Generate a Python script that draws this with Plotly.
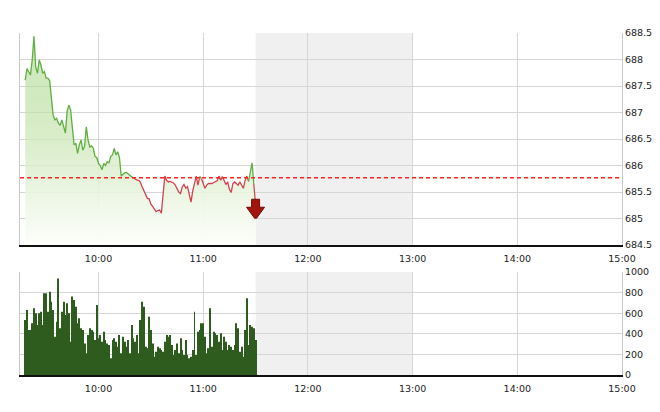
import plotly.graph_objects as go
import pandas as pd

day = "2024-01-02 "
prev_close = 685.77
x_start, x_end = day + "09:15", day + "15:00"
lunch_start, lunch_end = day + "11:30", day + "13:00"

times = list(pd.date_range(day + "09:18", day + "11:30", freq="1min"))

price = [
    687.61, 687.83, 687.77, 687.71, 687.99, 688.44, 687.86, 687.74, 687.99, 687.90,
    687.74, 687.77, 687.65, 687.65, 687.60, 687.33, 686.95, 686.86, 686.89, 686.80,
    686.76, 686.86, 686.73, 686.61, 687.02, 687.14, 687.05, 686.73, 686.39, 686.42,
    686.23, 686.39, 686.48, 686.29, 686.36, 686.73, 686.48, 686.35, 686.37, 686.33,
    686.17, 686.15, 686.04, 686.00, 685.92, 686.04, 686.00, 686.07, 686.05, 686.17,
    686.20, 686.32, 686.20, 686.26, 686.15, 685.80, 685.83, 685.86, 685.87, 685.84,
    685.81, 685.79, 685.76, 685.74, 685.73, 685.72, 685.68, 685.60, 685.53, 685.46,
    685.38, 685.37, 685.27, 685.23, 685.18, 685.13, 685.15, 685.16, 685.10, 685.50,
    685.80, 685.72, 685.69, 685.70, 685.69, 685.67, 685.63, 685.57, 685.50, 685.47,
    685.60, 685.64, 685.57, 685.60, 685.45, 685.31, 685.52, 685.64, 685.80, 685.63,
    685.79, 685.75, 685.66, 685.57, 685.63, 685.66, 685.66, 685.66, 685.68, 685.69,
    685.71, 685.80, 685.72, 685.79, 685.70, 685.64, 685.69, 685.55, 685.49, 685.66,
    685.69, 685.66, 685.63, 685.69, 685.64, 685.57, 685.72, 685.80, 685.70, 685.90,
    686.05, 685.65, 685.25,
]

volume = [
    534, 631, 437, 437, 502, 647, 599, 485, 599, 615, 485, 793, 793, 615, 809, 712,
    631, 372, 518, 938, 453, 615, 712, 582, 696, 599, 324, 761, 728, 663, 502, 550,
    453, 437, 307, 210, 388, 453, 437, 421, 340, 680, 356,
    388, 324, 421, 340, 307, 291, 162, 340, 356, 324, 275, 388, 210, 372, 324, 275,
    340, 210, 485, 356, 324, 388, 210, 534, 712, 663, 275, 259, 566, 437, 307, 178,
    226, 275, 259, 243, 226, 324, 388, 372, 388, 291, 194, 243, 307, 210, 356,
    243, 194, 340, 194, 162, 178, 243, 615, 194, 421, 437, 502, 502, 372, 210, 259,
    647, 275, 421, 405, 388, 324, 405, 243, 372, 324, 243, 291, 275, 243, 291, 502,
    453, 226, 275, 178, 437, 744, 291, 485, 469, 453, 340,
]

price_ticks = [684.5, 685, 685.5, 686, 686.5, 687, 687.5, 688, 688.5]
volume_ticks = [0, 200, 400, 600, 800, 1000]

GREEN = "#5fae40"
RED = "#d4424c"
GRID = "#d6d6d6"
FONT = dict(family="DejaVu Sans", size=9.5, color="#222222")

fig = go.Figure()

# gradient area under the price line
fig.add_trace(go.Scatter(
    x=times, y=price, mode="lines", line=dict(width=0),
    fill="tozeroy",
    fillgradient=dict(
        type="vertical",
        colorscale=[[0, "rgba(253,254,251,1)"], [0.2, "rgba(238,247,230,0.92)"],
                    [1, "rgba(150,205,110,0.45)"]],
        start=price_ticks[0], stop=price_ticks[-1],
    ),
    hoverinfo="skip", showlegend=False, xaxis="x", yaxis="y",
))

# price line, green above previous close, red below
segments = []
for i in range(len(price) - 1):
    col = GREEN if (price[i] + price[i + 1]) / 2 >= prev_close else RED
    if segments and segments[-1][0] == col:
        segments[-1][1].append(i + 1)
    else:
        segments.append((col, [i, i + 1]))
for col, idx in segments:
    fig.add_trace(go.Scatter(
        x=[times[k] for k in idx], y=[price[k] for k in idx], mode="lines",
        line=dict(color=col, width=1.3), showlegend=False, xaxis="x", yaxis="y",
    ))

# volume bars
fig.add_trace(go.Bar(
    x=times, y=volume, width=60000 * 0.55,
    marker=dict(color="#2e5c1e", line=dict(width=0)),
    showlegend=False, xaxis="x2", yaxis="y2",
))

# lunch break shading
for yr in ["y domain", "y2 domain"]:
    fig.add_shape(type="rect", xref="x", yref=yr,
                  x0=lunch_start, x1=lunch_end, y0=0, y1=1,
                  fillcolor="#f0f0f0", line=dict(width=0), layer="below")

# previous close reference line
fig.add_shape(type="line", xref="x domain", yref="y", x0=0, x1=1,
              y0=prev_close, y1=prev_close,
              line=dict(color="#ff2222", width=1.4, dash="4px,3px"), layer="above")

# last-price block arrow (pixel-sized glyph anchored at the last price)
fig.add_shape(type="path", xref="x", yref="y",
              xsizemode="pixel", ysizemode="pixel",
              xanchor=times[-1], yanchor=price[-1],
              path="M-4,6 L4,6 L4,-2 L9,-2 L1,-13 L-1,-13 L-9,-2 L-4,-2 Z",
              fillcolor="#a3140f", line=dict(color="#6e0b07", width=1), layer="above")

xcommon = dict(
    type="date", range=[x_start, x_end], tickformat="%H:%M",
    tick0=day + "10:00", dtick=3600000, showgrid=True, gridcolor=GRID, gridwidth=1,
    showline=True, linecolor="#111111", linewidth=2, ticks="", tickfont=FONT,
    zeroline=False, automargin=False, ticklabelstandoff=4,
)
ycommon = dict(
    side="right", showgrid=True, gridcolor=GRID, showline=True, mirror=True,
    linecolor="#c8c8c8", linewidth=1, ticks="", tickfont=FONT, zeroline=False,
    automargin=False,
)
# the page body adds an 8px offset, so the figure is sized to fit after it
fig.update_layout(
    width=652, height=404,
    margin=dict(l=12, r=38, t=25, b=37),
    paper_bgcolor="white", plot_bgcolor="white",
    xaxis=dict(domain=[0, 1], anchor="y", **xcommon),
    xaxis2=dict(domain=[0, 1], anchor="y2", matches="x", **xcommon),
    yaxis=dict(domain=[0.3801, 1], range=[price_ticks[0], price_ticks[-1]],
               tickvals=price_ticks, **ycommon),
    yaxis2=dict(domain=[0, 0.3012], range=[volume_ticks[0], volume_ticks[-1]],
                tickvals=volume_ticks, **ycommon),
)

fig.write_html("out.html")
